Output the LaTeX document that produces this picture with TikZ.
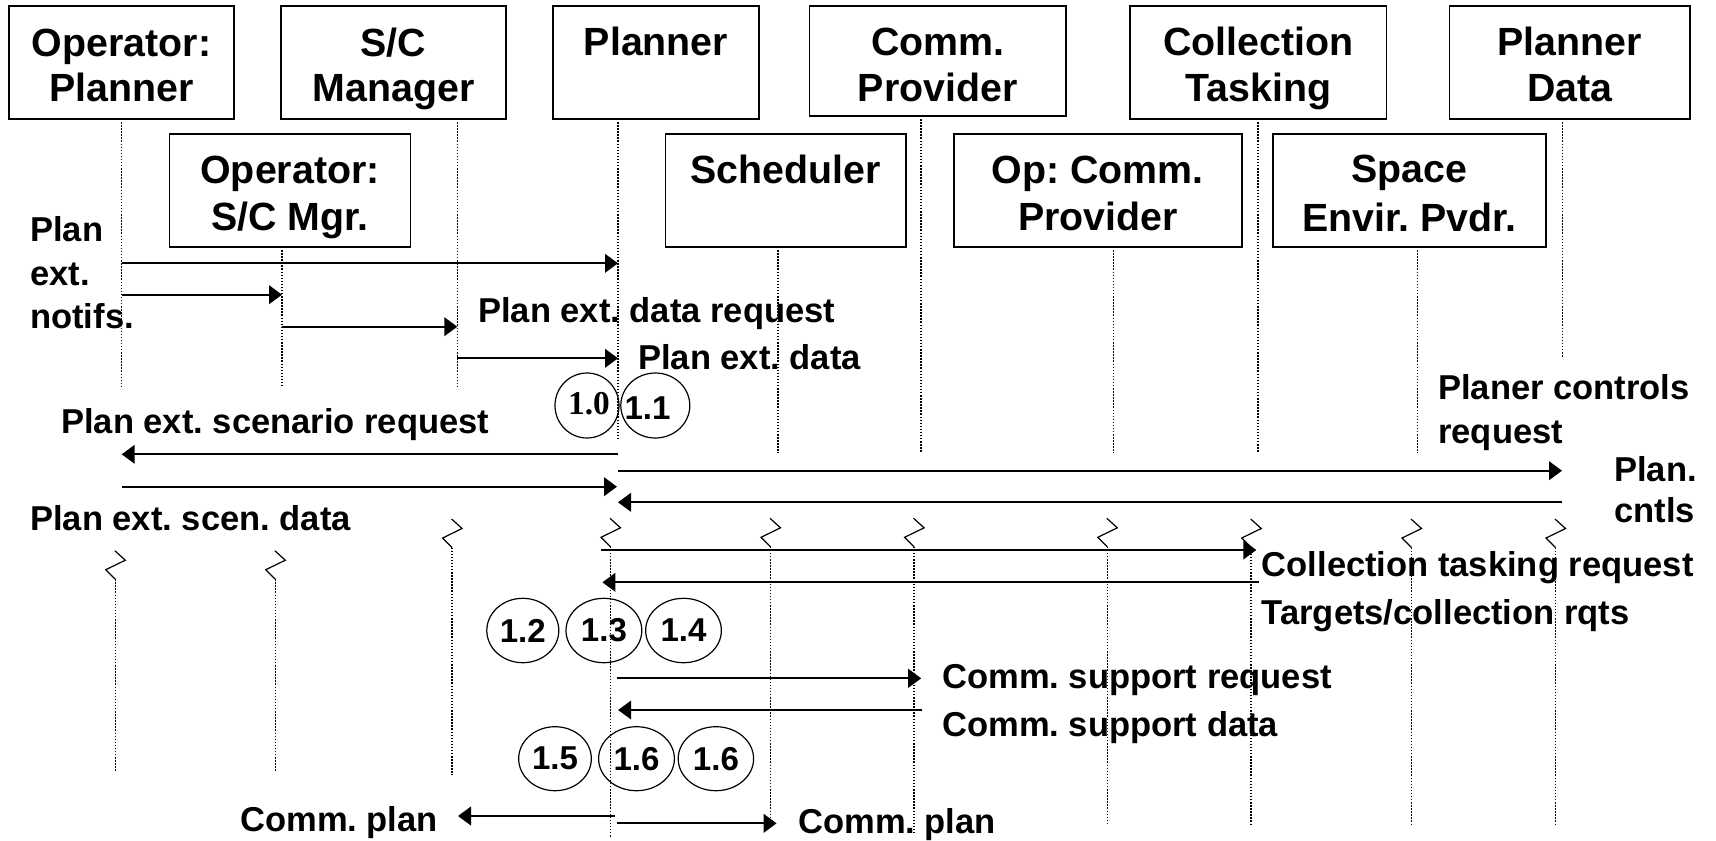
\documentclass[tikz,border=0pt]{standalone}
\usepackage{fontspec}
\setmainfont{Liberation Sans}
\newfontfamily\serifb{Liberation Serif}
\usetikzlibrary{arrows.meta,shapes.geometric}
\frenchspacing
\tikzset{
  box/.style={draw, line width=1.3pt, rectangle, inner sep=0pt},
  boxtxt/.style={font=\fontsize{29.5}{34}\selectfont\bfseries, anchor=base, inner sep=0pt},
  lbl/.style={font=\fontsize{25.9}{30}\selectfont\bfseries, anchor=base west, inner sep=0pt},
  life/.style={line width=1.1pt, dash pattern=on 1.1pt off 1.2pt},
  msg/.style={line width=1.4pt, -{Triangle[length=9.75pt,width=14pt]}},
  zz/.style={line width=0.9pt},
  bub/.style={draw, ellipse, line width=0.9pt, inner sep=0pt, font=\fontsize{24.8}{28}\selectfont\bfseries},
  bubtxt/.style={inner sep=0pt, font=\fontsize{24.8}{28}\selectfont\bfseries},
}
\begin{document}
\begin{tikzpicture}[x=0.75pt, y=-0.75pt]
\fill[white] (0,0) rectangle (1716,840);
\useasboundingbox (0,0) rectangle (1716,840);

% ---- top row boxes
\node[box, minimum width=168.75pt, minimum height=84.75pt] (opplan) at (121.5,62.5) {};
\node[boxtxt] (opplanA) at (121.5,56) {Operator:};
\node[boxtxt] (opplanB) at (121.5,101.5) {Planner};

\node[box, minimum width=168.75pt, minimum height=84.75pt] (scman) at (393.5,62.5) {};
\node[boxtxt] (scmanA) at (393.5,56) {S/C};
\node[boxtxt] (scmanB) at (393.5,101.5) {Manager};

\node[box, minimum width=154.5pt, minimum height=84.75pt] (planner) at (656,62.5) {};
\node[boxtxt] (plannerA) at (656,55.5) {Planner};

\node[box, minimum width=192.4pt, minimum height=82.5pt] (comm) at (937.75,61) {};
\node[boxtxt] (commA) at (937.75,55.5) {Comm.};
\node[boxtxt] (commB) at (937.75,101.5) {Provider};

\node[box, minimum width=192.3pt, minimum height=84.75pt] (coll) at (1258.2,62.5) {};
\node[boxtxt] (collA) at (1258.2,55.5) {Collection};
\node[boxtxt] (collB) at (1258.2,101) {Tasking};

\node[box, minimum width=180.4pt, minimum height=84.75pt] (pdata) at (1569.75,62.5) {};
\node[boxtxt] (pdataA) at (1569.75,55.5) {Planner};
\node[boxtxt] (pdataB) at (1569.75,101) {Data};

% ---- second row boxes
\node[box, minimum width=180.8pt, minimum height=84.75pt] (opsc) at (290,190.5) {};
\node[boxtxt] (opscA) at (290,183.3) {Operator:};
\node[boxtxt] (opscB) at (290,230) {S/C Mgr.};

\node[box, minimum width=180.2pt, minimum height=84.75pt] (sched) at (785.75,190.5) {};
\node[boxtxt] (schedA) at (785.75,183.3) {Scheduler};

\node[box, minimum width=216.2pt, minimum height=84.75pt] (opcomm) at (1097.85,190.5) {};
\node[boxtxt] (opcommA) at (1097.85,183) {Op: Comm.};
\node[boxtxt] (opcommB) at (1097.85,230) {Provider};

\node[box, minimum width=204.75pt, minimum height=84.75pt] (space) at (1409.5,190.5) {};
\node[boxtxt] (spaceA) at (1409.5,182) {Space};
\node[boxtxt] (spaceB) at (1409.5,231) {Envir. Pvdr.};

% ---- upper lifelines
\foreach \x/\s/\e in {121.7/119/388, 282/247/388, 457.3/119/388, 618/119/440,
  778/247/453, 921.2/116/453, 1113.7/247/453, 1258.2/119/453, 1417.7/247/453, 1562.4/119/357}
  \draw[life] (\x,\s) -- (\x,\e);

% ---- break marks and lower lifelines
\foreach \x/\y/\e in {114.8/550.7/771.7, 274.8/550.7/771.7, 451.6/519/775, 610/518.3/838,
  770/518.3/817, 913.6/518.3/833, 1106.8/518.3/825, 1250.7/519/825, 1411/519/825, 1555/519/825}
{
  \draw[zz] (\x,\y) -- ++(10.5,9.5) -- ++(-19.5,9.5) -- ++(9.5,9.5);
  \draw[life] (\x+0.5,\y+28.5) -- (\x+0.5,\e);
}

% ---- message end points
\coordinate (m1a) at (121.7,263.3);  \coordinate (m1b) at (618,263.3);
\coordinate (m2a) at (121.7,294.7);  \coordinate (m2b) at (282,294.7);
\coordinate (m3a) at (282,326.7);    \coordinate (m3b) at (457.3,326.7);
\coordinate (m4a) at (457.3,358.3);  \coordinate (m4b) at (618,358.3);
\coordinate (m5a) at (618,454.3);    \coordinate (m5b) at (121.7,454.3);
\coordinate (m6a) at (618,470.7);    \coordinate (m6b) at (1562,470.7);
\coordinate (m7a) at (121.7,486.7);  \coordinate (m7b) at (617,486.7);
\coordinate (m8a) at (1562,502.3);   \coordinate (m8b) at (618,502.3);
\coordinate (m9a) at (601,550);      \coordinate (m9b) at (1256.3,550);
\coordinate (m10a) at (1259,582.3);  \coordinate (m10b) at (602.4,582.3);
\coordinate (m11a) at (617,678.3);   \coordinate (m11b) at (921.2,678.3);
\coordinate (m12a) at (922.4,710);   \coordinate (m12b) at (618.1,710);
\coordinate (m13a) at (615,816);     \coordinate (m13b) at (458,816);
\coordinate (m14a) at (617,823.3);   \coordinate (m14b) at (776.6,823.3);

\draw[msg] (m1a) -- (m1b);
\draw[msg] (m2a) -- (m2b);
\draw[msg] (m3a) -- (m3b);
\draw[msg] (m4a) -- (m4b);
\draw[msg] (m5a) -- (m5b);
\draw[msg] (m6a) -- (m6b);
\draw[msg] (m7a) -- (m7b);
\draw[msg] (m8a) -- (m8b);
\draw[msg] (m9a) -- (m9b);
\draw[msg] (m10a) -- (m10b);
\draw[msg] (m11a) -- (m11b);
\draw[msg] (m12a) -- (m12b);
\draw[msg] (m13a) -- (m13b);
\draw[msg] (m14a) -- (m14b);

% ---- message labels
\node[lbl] (lplan1) at (30,241.7) {Plan};
\node[lbl] (lplan2) at (30,285) {ext.};
\node[lbl] (lplan3) at (30,328) {notifs.};
\node[lbl] (ldatareq) at (478,322) {Plan ext. data request};
\node[lbl] (ldata) at (638,369) {Plan ext. data};
\node[lbl] (lctl1) at (1438,399) {Planer controls};
\node[lbl] (lctl2) at (1438,443.5) {request};
\node[lbl] (lscenreq) at (61,433.5) {Plan ext. scenario request};
\node[lbl] (lscendata) at (30,530) {Plan ext. scen. data};
\node[lbl] (lcntl1) at (1614,481.7) {Plan.};
\node[lbl] (lcntl2) at (1614,522.5) {cntls};
\node[lbl] (lcoll1) at (1261.5,576.7) {Collection tasking request};
\node[lbl] (lcoll2) at (1261.5,624) {Targets/collection rqts};
\node[lbl] (lsup1) at (942,688.3) {Comm. support request};
\node[lbl] (lsup2) at (942,736.7) {Comm. support data};
\node[lbl] (lplanL) at (240,831.7) {Comm. plan};
\node[lbl] (lplanR) at (798,833) {Comm. plan};

% ---- activity bubbles
\node[bub, minimum width=48pt, minimum height=48.75pt] (c10) at (587,405.5) {};
\node[inner sep=0pt, font=\fontsize{25}{27}\serifb\bfseries] (t10) at (589,404) {1.0};
\node[bub, minimum width=51.75pt, minimum height=48.75pt] (c11) at (655.3,405.5) {};
\node[bubtxt] (t11) at (647.5,408.5) {1.1};
\node[bub, minimum width=54pt, minimum height=48.3pt] (c12) at (522.8,630.5) {1.2};
\node[bub, minimum width=56.85pt, minimum height=48.3pt] (c13) at (603.9,630.5) {1.3};
\node[bub, minimum width=56.8pt, minimum height=48.3pt] (c14) at (683.5,630.5) {1.4};
\node[bub, minimum width=54.5pt, minimum height=48pt] (c15) at (555,758.7) {1.5};
\node[bub, minimum width=56.85pt, minimum height=48pt] (c16) at (636.5,758.7) {1.6};
\node[bub, minimum width=56.55pt, minimum height=48pt] (c17) at (715.9,758.7) {1.6};
\end{tikzpicture}
\end{document}
